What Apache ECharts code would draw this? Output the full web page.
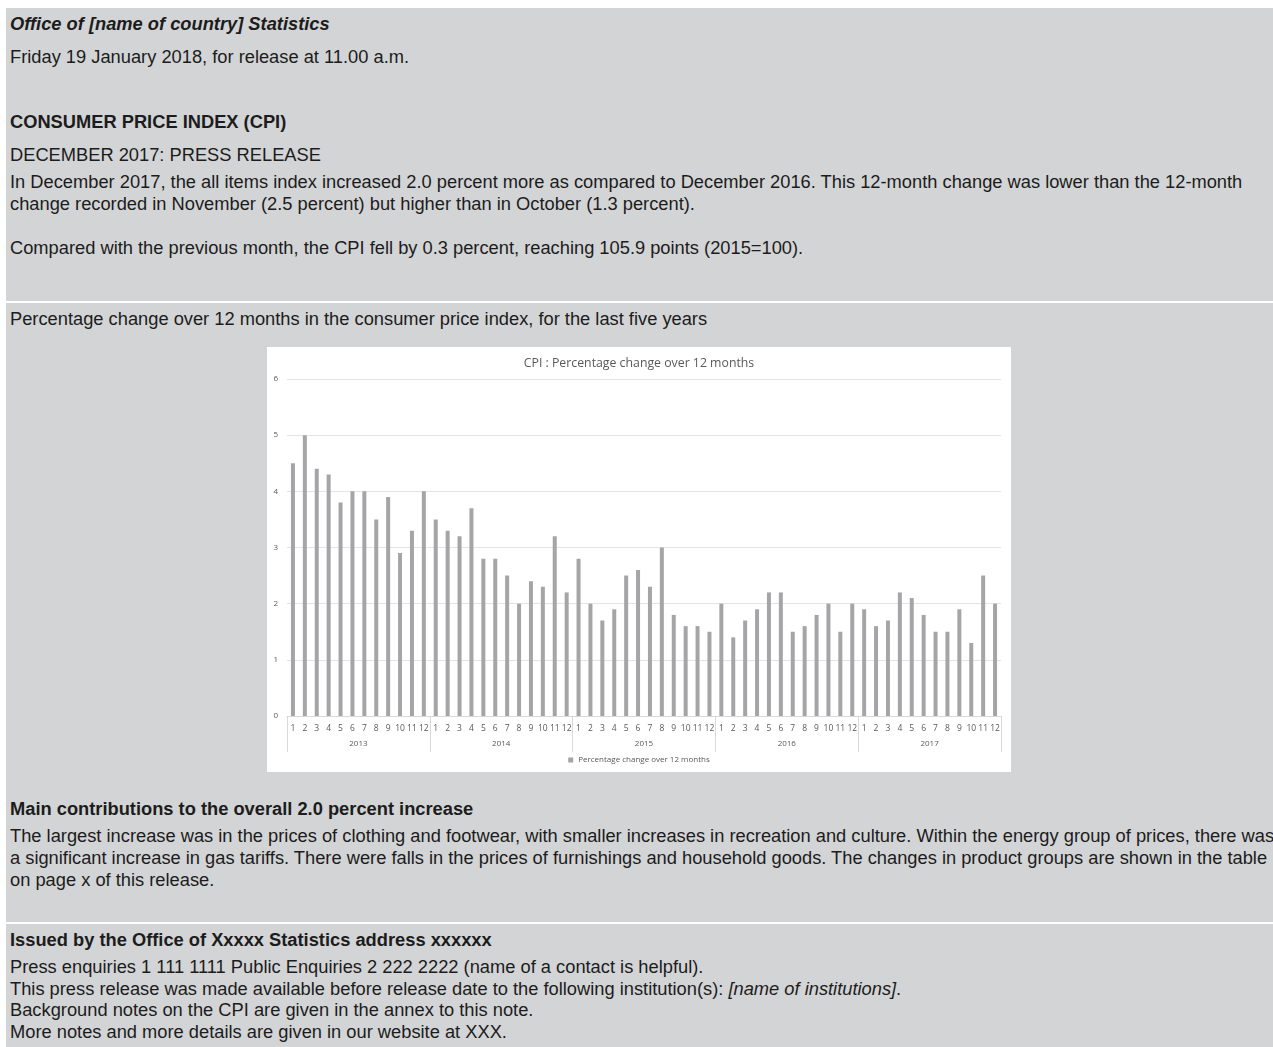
<!DOCTYPE html>
<html>
<head>
<meta charset="utf-8">
<script src="https://cdn.jsdelivr.net/npm/echarts@6/dist/echarts.min.js"></script>
<style>
  html, body { margin: 0; padding: 0; background: #ffffff; }
  body { width: 1273px; height: 1047px; position: relative; overflow: hidden;
         font-family: "Liberation Sans", Arial, sans-serif; color: #1c1c1c; }
  .panel { position: absolute; left: 6px; width: 1267px; background: #d3d4d6; }
  .t { position: absolute; left: 10px; white-space: nowrap; font-size: 18.3px; line-height: 22px; }
  .b { font-weight: bold; }
  .i { font-style: italic; }
  #chart { position: absolute; left: 267px; top: 347px; width: 744px; height: 425px; background: #fff; }
</style>
</head>
<body>
<div class="panel" style="top:8px;height:293px;"></div>
<div class="panel" style="top:303px;height:619px;"></div>
<div class="panel" style="top:924px;height:123px;"></div>

<div class="t b i" style="top:13px;">Office of [name of country] Statistics</div>
<div class="t" style="top:46px;">Friday 19 January 2018, for release at 11.00 a.m.</div>
<div class="t b" style="top:111px;">CONSUMER PRICE INDEX (CPI)</div>
<div class="t" style="top:144px;">DECEMBER 2017: PRESS RELEASE</div>
<div class="t" style="top:171px;">In December 2017, the all items index increased 2.0 percent more as compared to December 2016. This 12-month change was lower than the 12-month</div>
<div class="t" style="top:193px;">change recorded in November (2.5 percent) but higher than in October (1.3 percent).</div>
<div class="t" style="top:237px;">Compared with the previous month, the CPI fell by 0.3 percent, reaching 105.9 points (2015=100).</div>

<div class="t" style="top:308px;">Percentage change over 12 months in the consumer price index, for the last five years</div>

<div id="chart"></div>

<div class="t b" style="top:798px;">Main contributions to the overall 2.0 percent increase</div>
<div class="t" style="top:825px;">The largest increase was in the prices of clothing and footwear, with smaller increases in recreation and culture. Within the energy group of prices, there was</div>
<div class="t" style="top:847px;">a significant increase in gas tariffs. There were falls in the prices of furnishings and household goods. The changes in product groups are shown in the table</div>
<div class="t" style="top:869px;">on page x of this release.</div>

<div class="t b" style="top:929px;">Issued by the Office of Xxxxx Statistics address xxxxxx</div>
<div class="t" style="top:956px;">Press enquiries 1 111 1111 Public Enquiries 2 222 2222 (name of a contact is helpful).</div>
<div class="t" style="top:978px;">This press release was made available before release date to the following institution(s): <span class="i">[name of institutions]</span>.</div>
<div class="t" style="top:999px;">Background notes on the CPI are given in the annex to this note.</div>
<div class="t" style="top:1021px;">More notes and more details are given in our website at XXX.</div>

<script>
var monthLabels = ['1','2','3','4','5','6','7','8','9','10','11','12'];
var years = ['2013','2014','2015','2016','2017'];
var cpi2013 = [4.5, 5.0, 4.4, 4.3, 3.8, 4.0, 4.0, 3.5, 3.9, 2.9, 3.3, 4.0];
var cpi2014 = [3.5, 3.3, 3.2, 3.7, 2.8, 2.8, 2.5, 2.0, 2.4, 2.3, 3.2, 2.2];
var cpi2015 = [2.8, 2.0, 1.7, 1.9, 2.5, 2.6, 2.3, 3.0, 1.8, 1.6, 1.6, 1.5];
var cpi2016 = [2.0, 1.4, 1.7, 1.9, 2.2, 2.2, 1.5, 1.6, 1.8, 2.0, 1.5, 2.0];
var cpi2017 = [1.9, 1.6, 1.7, 2.2, 2.1, 1.8, 1.5, 1.5, 1.9, 1.3, 2.5, 2.0];
var seriesName = 'Percentage change over 12 months';
var chartTitle = 'CPI : Percentage change over 12 months';

var allValues = [].concat(cpi2013, cpi2014, cpi2015, cpi2016, cpi2017);
var monthAxis = [];
years.forEach(function () { monthAxis = monthAxis.concat(monthLabels); });

var font = '"Open Sans", Lato, sans-serif';
var chart = echarts.init(document.getElementById('chart'), null, { renderer: 'canvas' });
chart.setOption({
  backgroundColor: '#ffffff',
  animation: false,
  textStyle: { fontFamily: font },
  title: {
    text: chartTitle, left: 'center', top: 5,
    textStyle: { fontSize: 12.3, fontWeight: 'normal', color: '#595959', fontFamily: font }
  },
  legend: {
    bottom: 3, left: 'center', icon: 'rect', itemWidth: 5, itemHeight: 5, itemGap: 4,
    textStyle: { fontSize: 8, color: '#595959', fontFamily: font },
    data: [seriesName]
  },
  grid: { left: 20, right: 10, top: 32, bottom: 56, containLabel: false },
  xAxis: [
    {
      type: 'category', data: monthAxis, position: 'bottom',
      axisLine: { show: true, lineStyle: { color: '#d9d9d9', width: 1 } },
      axisTick: { show: false },
      axisLabel: { interval: 0, fontSize: 8.5, color: '#595959', margin: 8, fontFamily: font }
    },
    {
      type: 'category', data: years, position: 'bottom',
      axisLine: { show: false },
      axisTick: { show: true, length: 36, lineStyle: { color: '#d9d9d9', width: 1 } },
      axisLabel: { interval: 0, fontSize: 8, color: '#595959', margin: 24, fontFamily: font }
    }
  ],
  yAxis: {
    type: 'value', min: 0, max: 6, interval: 1,
    axisLine: { show: false }, axisTick: { show: false },
    axisLabel: { fontSize: 8, color: '#595959', margin: 9, fontFamily: font },
    splitLine: { lineStyle: { color: '#e3e3e3', width: 1 } }
  },
  series: [{
    name: seriesName, type: 'bar', xAxisIndex: 0, data: allValues,
    barWidth: 4, itemStyle: { color: '#a5a5a7' }
  }]
});
</script>
</body>
</html>
